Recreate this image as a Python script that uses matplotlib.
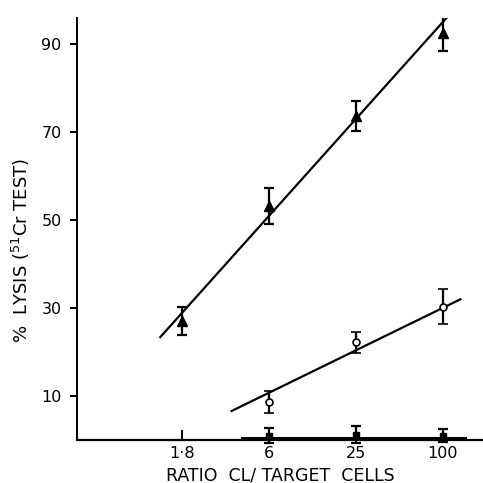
import numpy as np
import matplotlib.pyplot as plt

# ratio CL / target cells (4-fold steps, drawn equally spaced)
ratio_labels = ['1·8', '6', '25', '100']
pos = np.arange(4)

# filled triangles
tri_x = np.array([0, 1, 2, 3])
tri_y = np.array([27.0, 53.3, 73.6, 92.5])
tri_err = np.array([3.2, 4.1, 3.4, 4.0])
tri_fit_x = np.array([-0.25, 3.1])
tri_fit_y = np.array([23.4, 97.3])

# open circles
circ_x = np.array([1, 2, 3])
circ_y = np.array([8.6, 22.2, 30.3])
circ_err = np.array([2.5, 2.3, 4.0])
circ_fit_x = np.array([0.57, 3.2])
circ_fit_y = np.array([6.6, 32.0])

# filled squares (baseline)
sq_x = np.array([1, 2, 3])
sq_y = np.array([1.0, 1.2, 1.0])
sq_err = np.array([1.7, 1.9, 1.5])
sq_fit_x = np.array([0.69, 3.25])
sq_fit_y = np.array([0.4, 0.4])

fig = plt.figure(figsize=(4.83, 4.83), dpi=100)
ax = fig.add_axes([0.159, 0.089, 0.841, 0.874])

# fitted lines
ax.plot(tri_fit_x, tri_fit_y, color='black', lw=1.6)
ax.plot(circ_fit_x, circ_fit_y, color='black', lw=1.6)
ax.plot(sq_fit_x, sq_fit_y, color='black', lw=2.2, clip_on=False)

ax.errorbar(tri_x, tri_y, yerr=tri_err, fmt='^', color='black', ms=6.5,
            elinewidth=1.6, capsize=3.3, capthick=1.6)
ax.errorbar(circ_x, circ_y, yerr=circ_err, fmt='o', color='black', mfc='white',
            ms=5, mew=1.2, elinewidth=1.6, capsize=3.3, capthick=1.6)
ax.errorbar(sq_x, sq_y, yerr=sq_err, fmt='s', color='black', ms=4.5,
            elinewidth=1.6, capsize=3.3, capthick=1.6, clip_on=False)

ax.set_xlim(-1.21, 3.46)
ax.set_ylim(0, 96)
ax.set_xticks(pos)
ax.set_xticklabels(ratio_labels)
ax.set_yticks([10, 30, 50, 70, 90])

ax.spines['top'].set_visible(False)
ax.spines['right'].set_visible(False)
ax.spines['left'].set_linewidth(1.4)
ax.spines['bottom'].set_linewidth(1.6)

ax.tick_params(axis='x', direction='in', length=7, width=1.4, labelsize=11.5, pad=4)
ax.tick_params(axis='y', direction='out', length=5, width=1.4, labelsize=11.5, pad=6)

ax.set_xlabel('RATIO  CL/ TARGET  CELLS', fontsize=12.5, labelpad=4)
ax.set_ylabel(r'%  LYSIS ($^{51}$Cr TEST)', fontsize=13)
ax.yaxis.set_label_coords(-0.11, 0.45)

fig.savefig('out.png', dpi=100)
